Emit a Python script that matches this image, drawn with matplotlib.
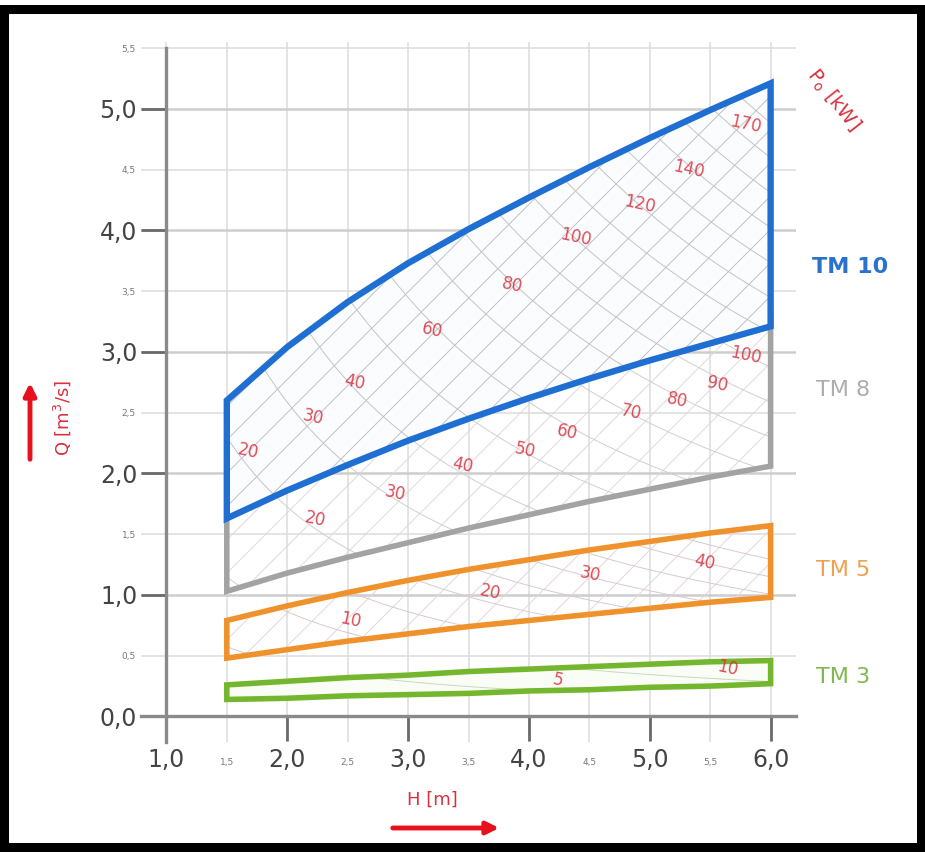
import numpy as np
import matplotlib
matplotlib.use("Agg")
import matplotlib.pyplot as plt
from matplotlib.patches import Polygon, Rectangle, FancyArrowPatch

plt.rcParams['font.family'] = ['DejaVu Sans']

# ---------------- data ----------------
H_pts = [1.5, 2.0, 2.5, 3.0, 3.5, 4.0, 4.5, 5.0, 5.5, 6.0]

tm10_qmax = [2.60, 3.04, 3.41, 3.73, 4.01, 4.27, 4.52, 4.76, 4.99, 5.21]
tm10_qmin = [1.63, 1.86, 2.07, 2.27, 2.45, 2.62, 2.78, 2.93, 3.07, 3.21]
tm8_qmax = [1.70, 1.93, 2.14, 2.34, 2.53, 2.71, 2.87, 3.03, 3.18, 3.32]
tm8_qmin = [1.03, 1.18, 1.31, 1.43, 1.55, 1.66, 1.77, 1.87, 1.97, 2.06]
tm5_qmax = [0.79, 0.91, 1.02, 1.12, 1.21, 1.29, 1.37, 1.44, 1.51, 1.57]
tm5_qmin = [0.48, 0.55, 0.62, 0.68, 0.74, 0.79, 0.84, 0.89, 0.94, 0.98]
tm3_qmax = [0.26, 0.29, 0.32, 0.34, 0.37, 0.39, 0.41, 0.43, 0.45, 0.46]
tm3_qmin = [0.14, 0.15, 0.17, 0.18, 0.19, 0.21, 0.22, 0.24, 0.25, 0.27]

turbine_names = ["TM 10", "TM 8", "TM 5", "TM 3"]

# power contour levels (kW) and P = k * Q * H factor
tm10_levels = [10, 20, 30, 40, 50, 60, 70, 80, 90, 100, 110, 120, 130, 140, 150, 160, 170, 180]
tm8_levels = [10, 20, 30, 40, 50, 60, 70, 80, 90, 100, 110]
tm5_levels = [5, 10, 15, 20, 25, 30, 35, 40, 45]
tm3_levels = [5, 10]
power_factor = 5.8

# power labels: (value, H, Q)
tm10_plabels = [(20, 1.68, 2.18), (30, 2.21, 2.46), (40, 2.56, 2.75), (60, 3.20, 3.18),
                (80, 3.86, 3.55), (100, 4.39, 3.94), (120, 4.92, 4.21), (140, 5.32, 4.50),
                (170, 5.79, 4.87)]
tm8_plabels = [(20, 2.23, 1.62), (30, 2.89, 1.84), (40, 3.45, 2.07), (50, 3.97, 2.19),
               (60, 4.32, 2.34), (70, 4.84, 2.50), (80, 5.23, 2.60), (90, 5.56, 2.73),
               (100, 5.79, 2.97)]
tm5_plabels = [(10, 2.52, 0.79), (20, 3.68, 1.02), (30, 4.51, 1.17), (40, 5.45, 1.27)]
tm3_plabels = [(5, 4.24, 0.30), (10, 5.64, 0.40)]

x_major = [1.0, 2.0, 3.0, 4.0, 5.0, 6.0]
x_major_lbl = ["1,0", "2,0", "3,0", "4,0", "5,0", "6,0"]
x_minor = [1.5, 2.5, 3.5, 4.5, 5.5]
x_minor_lbl = ["1,5", "2,5", "3,5", "4,5", "5,5"]
y_major = [0.0, 1.0, 2.0, 3.0, 4.0, 5.0]
y_major_lbl = ["0,0", "1,0", "2,0", "3,0", "4,0", "5,0"]
y_minor = [0.5, 1.5, 2.5, 3.5, 4.5, 5.5]
y_minor_lbl = ["0,5", "1,5", "2,5", "3,5", "4,5", "5,5"]

# ---------------- styles ----------------
BLUE = "#1f6fd2"
GRAY = "#a3a3a3"
ORANGE = "#f0922c"
GREEN = "#74b72e"
RED = "#d9303c"
W, Hh = 925, 852

fig = plt.figure(figsize=(9.25, 8.52), dpi=100)
ax = fig.add_axes([141 / W, 1 - 742 / Hh, (796 - 141) / W, (742 - 42) / Hh])
ax.set_xlim(0.79, 6.21)
ax.set_ylim(-0.21, 5.55)

# spines
for s in ("top", "right"):
    ax.spines[s].set_visible(False)
ax.spines["left"].set_position(("data", 1.0))
ax.spines["bottom"].set_position(("data", 0.0))
ax.spines["left"].set_bounds(-0.21, 5.5)
for s in ("left", "bottom"):
    ax.spines[s].set_color("#8a8a8a")
    ax.spines[s].set_linewidth(2.4)
    ax.spines[s].set_zorder(6)

ax.set_xticks(x_major)
ax.set_xticklabels(x_major_lbl)
ax.set_xticks(x_minor, minor=True)
ax.set_xticklabels(x_minor_lbl, minor=True)
ax.set_yticks(y_major)
ax.set_yticklabels(y_major_lbl)
ax.set_yticks(y_minor, minor=True)
ax.set_yticklabels(y_minor_lbl, minor=True)

ax.tick_params(which="major", length=18, width=2.0, color="#6a6a6a",
               labelsize=17, labelcolor="#444444")
ax.tick_params(axis="x", which="major", pad=5)
ax.tick_params(axis="y", which="major", pad=3)
ax.tick_params(which="minor", length=0, labelsize=6.5, labelcolor="#777777")
ax.tick_params(axis="x", which="minor", pad=30)
ax.tick_params(axis="y", which="minor", pad=22)

ax.grid(which="both", color="#dddddd", linewidth=1.1, zorder=0)
ax.yaxis.grid(which="major", color="#cdcdcd", linewidth=1.8)
ax.set_axisbelow(True)

HH, QQ = np.meshgrid(np.linspace(1.4, 6.1, 300), np.linspace(0.0, 5.4, 300))
PP = power_factor * HH * QQ


def region(qmax, qmin):
    return np.column_stack([H_pts + H_pts[::-1], qmax + qmin[::-1]])


def draw_turbine(qmax, qmin, color, lw, levels, ccolor, hatch_color, fill_color, z):
    verts = region(qmax, qmin)
    if fill_color:
        ax.add_patch(Polygon(verts, closed=True, facecolor=fill_color,
                             edgecolor="none", zorder=z))
    clip = Polygon(verts, closed=True, facecolor="none", edgecolor="none",
                   transform=ax.transData)
    if hatch_color:
        hp = Polygon(verts, closed=True, fill=False, hatch="/",
                     edgecolor=hatch_color, linewidth=0, zorder=z + 0.1)
        ax.add_patch(hp)
    cs = ax.contour(HH, QQ, PP, levels=levels, colors=ccolor, linewidths=0.7,
                    zorder=z + 0.2)
    cs.set_clip_path(clip)
    ax.add_patch(Polygon(verts, closed=True, fill=False, edgecolor=color,
                         linewidth=lw, joinstyle="miter", zorder=z + 0.5))


plt.rcParams['hatch.linewidth'] = 0.7
draw_turbine(tm3_qmax, tm3_qmin, GREEN, 4.0, tm3_levels, "#c8d8c0", None, "#fafdf6", 2)
draw_turbine(tm5_qmax, tm5_qmin, ORANGE, 4.0, tm5_levels, "#d9c9cc", "#e6d6da", None, 2)
draw_turbine(tm8_qmax, tm8_qmin, GRAY, 4.0, tm8_levels, "#d4cdd0", "#dcdcdc", None, 3)
draw_turbine(tm10_qmax, tm10_qmin, BLUE, 4.6, tm10_levels, "#c4c4c4", "#bcc2cc", "#fbfcfe", 4)

for group in (tm10_plabels, tm8_plabels, tm5_plabels, tm3_plabels):
    for val, h, q in group:
        ax.text(h, q, str(val), color=RED, fontsize=12, rotation=-12,
                ha="center", va="center", zorder=8, alpha=0.85)

# turbine names at the right
tm_colors = ["#2a72cc", "#adadad", "#f0a04e", "#7fb84e"]
tm_y = [267, 390, 570, 677]
tm_x = [850, 843, 843, 843]
for name, c, px, py in zip(turbine_names, tm_colors, tm_x, tm_y):
    fig.text(px / W, 1 - py / Hh, name, color=c, fontsize=16,
             fontweight="bold" if name == "TM 10" else "normal",
             ha="center", va="center")

# Po [kW]
fig.text(833 / W, 1 - 100 / Hh, r"P$_\mathrm{o}$ [kW]", color=RED, fontsize=14,
         rotation=-52, ha="center", va="center")

# axis labels
fig.text(62 / W, 1 - 418 / Hh, "Q [m$^3$/s]", color=RED, fontsize=13,
         rotation=90, ha="center", va="center")
fig.text(432 / W, 1 - 800 / Hh, "H [m]", color=RED, fontsize=13,
         ha="center", va="center")

fig.add_artist(FancyArrowPatch((30 / W, 1 - 462 / Hh), (30 / W, 1 - 380 / Hh),
                               transform=fig.transFigure, arrowstyle="-|>",
                               mutation_scale=18, linewidth=3.5, color="#e8101c"))
fig.add_artist(FancyArrowPatch((390 / W, 1 - 828 / Hh), (502 / W, 1 - 828 / Hh),
                               transform=fig.transFigure, arrowstyle="-|>",
                               mutation_scale=18, linewidth=3.5, color="#e8101c"))

# black frame
fig.add_artist(Rectangle((4 / W, 5 / Hh), (921 - 4) / W, (843 - 5) / Hh,
                         transform=fig.transFigure, fill=False,
                         edgecolor="black", linewidth=6.5))

fig.savefig("out.png", dpi=100)
